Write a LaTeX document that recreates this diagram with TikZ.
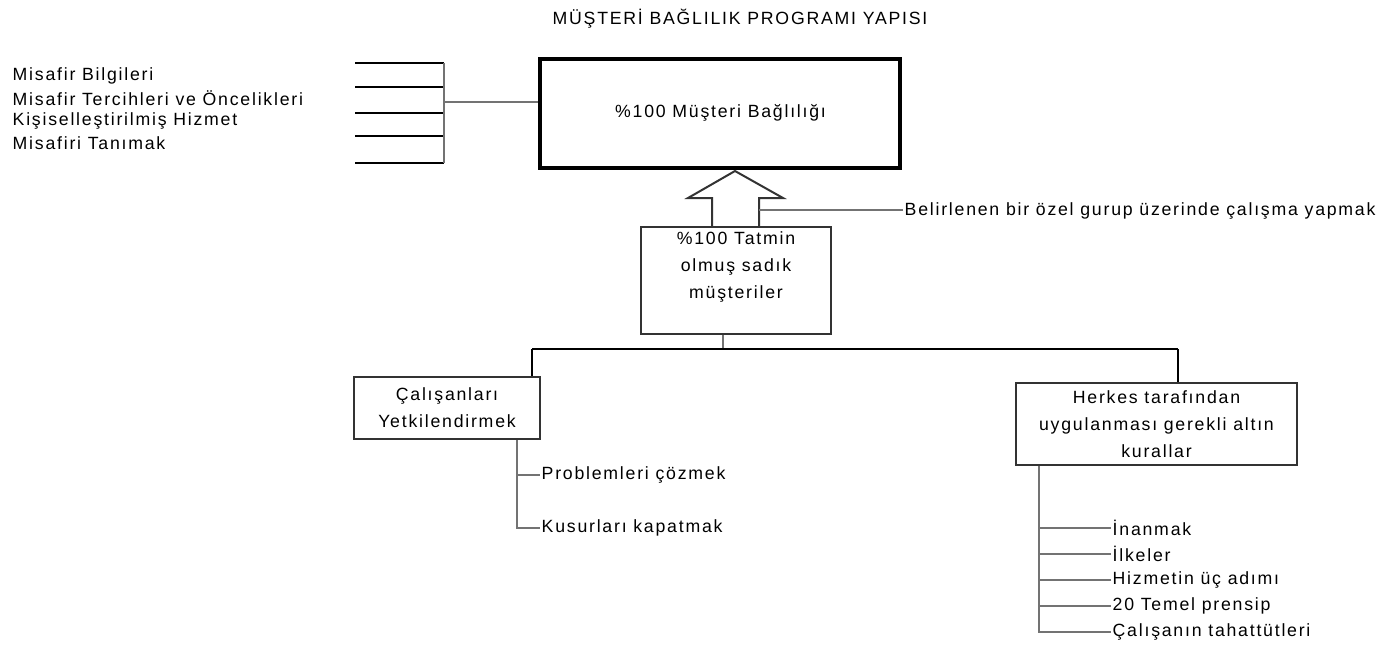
\documentclass[tikz,border=0pt]{standalone}
\usepackage{fontspec}
\setmainfont{Liberation Sans}[LetterSpace=10]
\usetikzlibrary{calc,positioning}
\tikzset{
	box/.style={draw=black!80,line width=2pt},
	txt/.style={inner sep=0pt,font=\fontsize{17.7}{27}\selectfont},
	item/.style={txt,anchor=west,inner sep=1.5pt},
	tie/.style={draw=black,line width=1.9pt},
	twig/.style={draw=black!55,line width=2.2pt}
}

\begin{document}
\begin{tikzpicture}[x=1pt,y=-1pt]
		\useasboundingbox (0,0) rectangle (1387,649);
		\node[txt] (title) at (740,19) {MÜŞTERİ BAĞLILIK PROGRAMI YAPISI};

		% hedef
		\node[box,draw=black,line width=3.4pt,minimum width=360pt,minimum height=109pt] (goal) at (720,113.5) {};
		\node[txt,anchor=west] (goaltext) at (615,113) {\%100 Müşteri Bağlılığı};

		% misafir
		\node[item] (info) at (11,76) {Misafir Bilgileri};
		\node[item] (pref) at (11,98) {Misafir Tercihleri ve Öncelikleri};
		\node[item] (pers) at (11,121) {Kişiselleştirilmiş Hizmet};
		\node[item] (know) at (11,143) {Misafiri Tanımak};
		\coordinate (tick1) at (444,63);
		\coordinate (tick2) at (444,87);
		\coordinate (tick3) at (444,113);
		\coordinate (tick4) at (444,136);
		\coordinate (tick5) at (444,163);
		\draw[tie] (tick1) -- ++(-89,0);
		\draw[tie] (tick2) -- ++(-89,0);
		\draw[tie] (tick3) -- ++(-89,0);
		\draw[tie] (tick4) -- ++(-89,0);
		\draw[tie] (tick5) -- ++(-89,0);
		\draw[twig] (tick1) -- (tick5);
		\coordinate (comb) at (444,102);
		\draw[twig,line width=1.6pt] (comb) -- (comb -| goal.west);

		% tatmin
		\node[box,minimum width=190pt,minimum height=107pt] (sat) at (736,280.5) {};
		\node[txt,align=center] (sattext) at (736,267) {\%100 Tatmin\\olmuş sadık\\müşteriler};
		\draw[box,line join=miter] ($(sat.north)+(-24,0)$) -- ++(0,-28) -- ++(-24,0)
			-- ($(sat.north)+(-1,-55)$) -- ($(sat.north)+(47,-28)$) -- ++(-24,0) -- ++(0,28);
		\coordinate (shaft) at ($(sat.north)+(23,-16)$);
		\node[item] (focus) at (903,211) {Belirlenen bir özel gurup üzerinde çalışma yapmak};
		\draw[twig] (shaft) -- (shaft -| focus.west);

		% dallar
		\coordinate (hub) at (723,349);
		\coordinate (barL) at (532,349);
		\coordinate (barR) at (1178,349);
		\draw[twig] (hub |- sat.south) -- (hub);
		\draw[tie] (barL) -- (barR);

		\node[box,txt,align=center,minimum width=186pt,minimum height=62pt] (emp) at (447,408) {Çalışanları\\Yetkilendirmek};
		\draw[tie] (barL) -- (barL |- emp.north);
		\node[item] (solve) at (540,475) {Problemleri çözmek};
		\node[item] (mend) at (540,528) {Kusurları kapatmak};
		\coordinate (empstem) at ($(emp.south)+(70,0)$);
		\draw[twig] (empstem) |- (mend.west);
		\draw[twig] (empstem |- solve.west) -- (solve.west);

		\node[box,txt,align=center,minimum width=281pt,minimum height=82pt] (rules) at (1156.5,424) {Herkes tarafından\\uygulanması gerekli altın\\kurallar};
		\draw[tie] (barR) -- (barR |- rules.north);
		\node[item] (faith) at (1111,528) {İnanmak};
		\node[item] (tenet) at (1111,554) {İlkeler};
		\node[item] (steps) at (1111,580) {Hizmetin üç adımı};
		\node[item] (basic) at (1111,606) {20 Temel prensip};
		\node[item] (duty) at (1111,632) {Çalışanın tahattütleri};
		\coordinate (rulestem) at ($(rules.south west)+(24,0)$);
		\draw[twig] (rulestem) |- (duty.west);
		\draw[twig] (rulestem |- faith.west) -- (faith.west);
		\draw[twig] (rulestem |- tenet.west) -- (tenet.west);
		\draw[twig] (rulestem |- steps.west) -- (steps.west);
		\draw[twig] (rulestem |- basic.west) -- (basic.west);
	\end{tikzpicture}
\end{document}
